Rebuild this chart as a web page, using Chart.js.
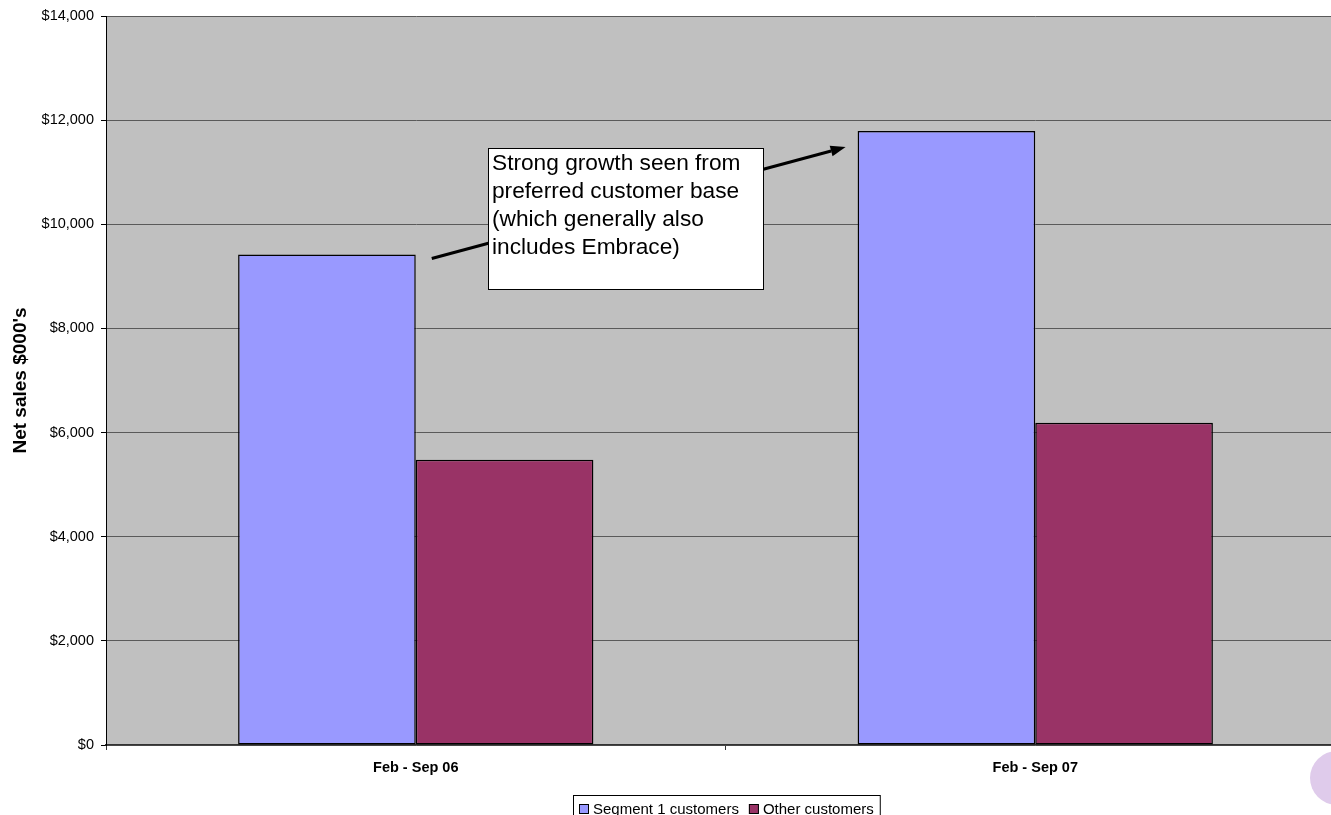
<!DOCTYPE html>
<html>
<head>
<meta charset="utf-8">
<script src="https://cdn.jsdelivr.net/npm/chart.js@4.4.1/dist/chart.umd.min.js"></script>
<style>
  html, body { margin: 0; padding: 0; background: #fff; overflow: hidden; }
  #wrap { position: relative; width: 1331px; height: 815px; overflow: hidden; }
  #c { position: absolute; left: 0; top: 0; }
  #dot { position: absolute; left: 1310px; top: 751px; width: 54px; height: 54px;
         border-radius: 50%; background: #dfcbeb; filter: blur(0.6px); }
</style>
</head>
<body>
<div id="wrap">
  <canvas id="c" width="1350" height="830"></canvas>
  <div id="dot"></div>
</div>
<script>
// Periods and net sales ($000's) per customer group
const periods = ['Feb - Sep 06', 'Feb - Sep 07'];
const segment1Sales = [9420, 11790];
const otherSales = [5480, 6190];
const seriesNames = ['Segment 1 customers', 'Other customers'];
const yTickValues = [0, 2000, 4000, 6000, 8000, 10000, 12000, 14000];
const noteLines = [
  'Strong growth seen from',
  'preferred customer base',
  '(which generally also',
  'includes Embrace)'
];

const FONT = '"Liberation Sans", Arial, Helvetica, sans-serif';

// Grey plot area fill
const plotBackground = {
  id: 'plotBackground',
  beforeDraw(chart) {
    const { ctx, chartArea: a } = chart;
    ctx.save();
    ctx.fillStyle = '#c0c0c0';
    ctx.fillRect(a.left, a.top, a.right - a.left, a.bottom - a.top);
    ctx.restore();
  }
};

// Callout box with an arrow running from the first to the second Segment 1 bar
const growthNote = {
  id: 'growthNote',
  afterDatasetsDraw(chart) {
    const { ctx, chartArea: a } = chart;
    const bars = chart.getDatasetMeta(0).data;
    const b0 = bars[0], b1 = bars[1];
    const x0 = b0.x + b0.width / 2 + 16, y0 = b0.y + 4;
    const x1 = b1.x - b1.width / 2 - 12, y1 = b1.y + 16;

    ctx.save();
    ctx.strokeStyle = '#000';
    ctx.fillStyle = '#000';
    ctx.lineWidth = 3;
    const ang = Math.atan2(y1 - y0, x1 - x0);
    const head = 15, half = 5.5;
    const bx = x1 - head * Math.cos(ang), by = y1 - head * Math.sin(ang);
    ctx.beginPath();
    ctx.moveTo(x0, y0);
    ctx.lineTo(bx, by);
    ctx.stroke();
    ctx.beginPath();
    ctx.moveTo(x1, y1);
    ctx.lineTo(bx + half * Math.sin(ang), by - half * Math.cos(ang));
    ctx.lineTo(bx - half * Math.sin(ang), by + half * Math.cos(ang));
    ctx.closePath();
    ctx.fill();

    // text box
    const left = a.left + 382, top = a.top + 132, w = 275, h = 141;
    ctx.fillStyle = '#fff';
    ctx.fillRect(left, top, w, h);
    ctx.lineWidth = 1;
    ctx.strokeStyle = '#000';
    ctx.strokeRect(left + 0.5, top + 0.5, w, h);
    ctx.fillStyle = '#000';
    ctx.font = '22.7px ' + FONT;
    ctx.textBaseline = 'middle';
    ctx.textAlign = 'left';
    noteLines.forEach((line, i) => ctx.fillText(line, left + 4, top + 16 + i * 27.8));
    ctx.restore();
  }
};

// Boxed legend under the category labels
const boxedLegend = {
  id: 'boxedLegend',
  afterDraw(chart) {
    const { ctx, chartArea: a } = chart;
    const ds = chart.data.datasets;
    ctx.save();
    ctx.font = '15px ' + FONT;
    const pad = 6, box = 10, gap = 4, spacing = 10;
    const widths = ds.map(d => ctx.measureText(d.label).width);
    const total = pad * 2 + widths.reduce((s, w) => s + box + gap + w, 0) + spacing * (ds.length - 1);
    const cx = 726;
    const left = Math.round(cx - total / 2);
    const top = 795, h = 28, midY = 809;
    ctx.fillStyle = '#fff';
    ctx.fillRect(left, top, total, h);
    ctx.strokeStyle = '#000';
    ctx.lineWidth = 1;
    ctx.strokeRect(left + 0.5, top + 0.5, total, h);
    let x = left + pad;
    ds.forEach((d, i) => {
      ctx.fillStyle = d.backgroundColor;
      ctx.fillRect(x, midY - 5, box, box);
      ctx.strokeStyle = '#000';
      ctx.strokeRect(x + 0.5, midY - 4.5, box - 1, box - 1);
      ctx.fillStyle = '#000';
      ctx.textBaseline = 'middle';
      ctx.fillText(d.label, x + box + gap, midY + 1);
      x += box + gap + widths[i] + spacing;
    });
    ctx.restore();
  }
};

new Chart(document.getElementById('c'), {
  type: 'bar',
  data: {
    labels: periods,
    datasets: [
      {
        label: seriesNames[0],
        data: segment1Sales,
        backgroundColor: '#9999ff',
        borderColor: '#000',
        borderWidth: 1.5,
        borderSkipped: false
      },
      {
        label: seriesNames[1],
        data: otherSales,
        backgroundColor: '#993366',
        borderColor: '#000',
        borderWidth: 1.5,
        borderSkipped: false
      }
    ]
  },
  options: {
    responsive: false,
    animation: false,
    layout: { padding: { top: 16, right: 5, bottom: 0, left: 0 } },
    datasets: { bar: { categoryPercentage: 0.5735, barPercentage: 1 } },
    plugins: {
      legend: { display: false },
      tooltip: { enabled: false }
    },
    scales: {
      x: {
        grid: {
          offset: true,
          drawOnChartArea: false,
          drawTicks: true,
          tickLength: 5,
          tickColor: '#333'
        },
        border: { color: '#333', width: 1.5 },
        ticks: {
          color: '#000',
          padding: 9,
          font: { family: FONT, size: 14.5, weight: 'bold' }
        },
        afterFit(s) { s.height = 85; }
      },
      y: {
        min: 0,
        max: 14000,
        afterBuildTicks(s) { s.ticks = yTickValues.map(v => ({ value: v })); },
        grid: {
          color: '#5a5a5a',
          lineWidth: 1,
          drawTicks: true,
          tickLength: 5,
          tickColor: '#000'
        },
        border: { color: '#000', width: 1 },
        ticks: {
          color: '#000',
          padding: 7,
          font: { family: FONT, size: 14.5 },
          callback: v => '$' + Number(v).toLocaleString('en-US')
        },
        title: {
          display: true,
          text: "Net sales $000's",
          color: '#000',
          padding: { top: 9.6, bottom: 0 },
          font: { family: FONT, size: 19, weight: 'bold' }
        },
        afterFit(s) { s.width = 106; }
      }
    }
  },
  plugins: [plotBackground, growthNote, boxedLegend]
});
</script>
</body>
</html>
